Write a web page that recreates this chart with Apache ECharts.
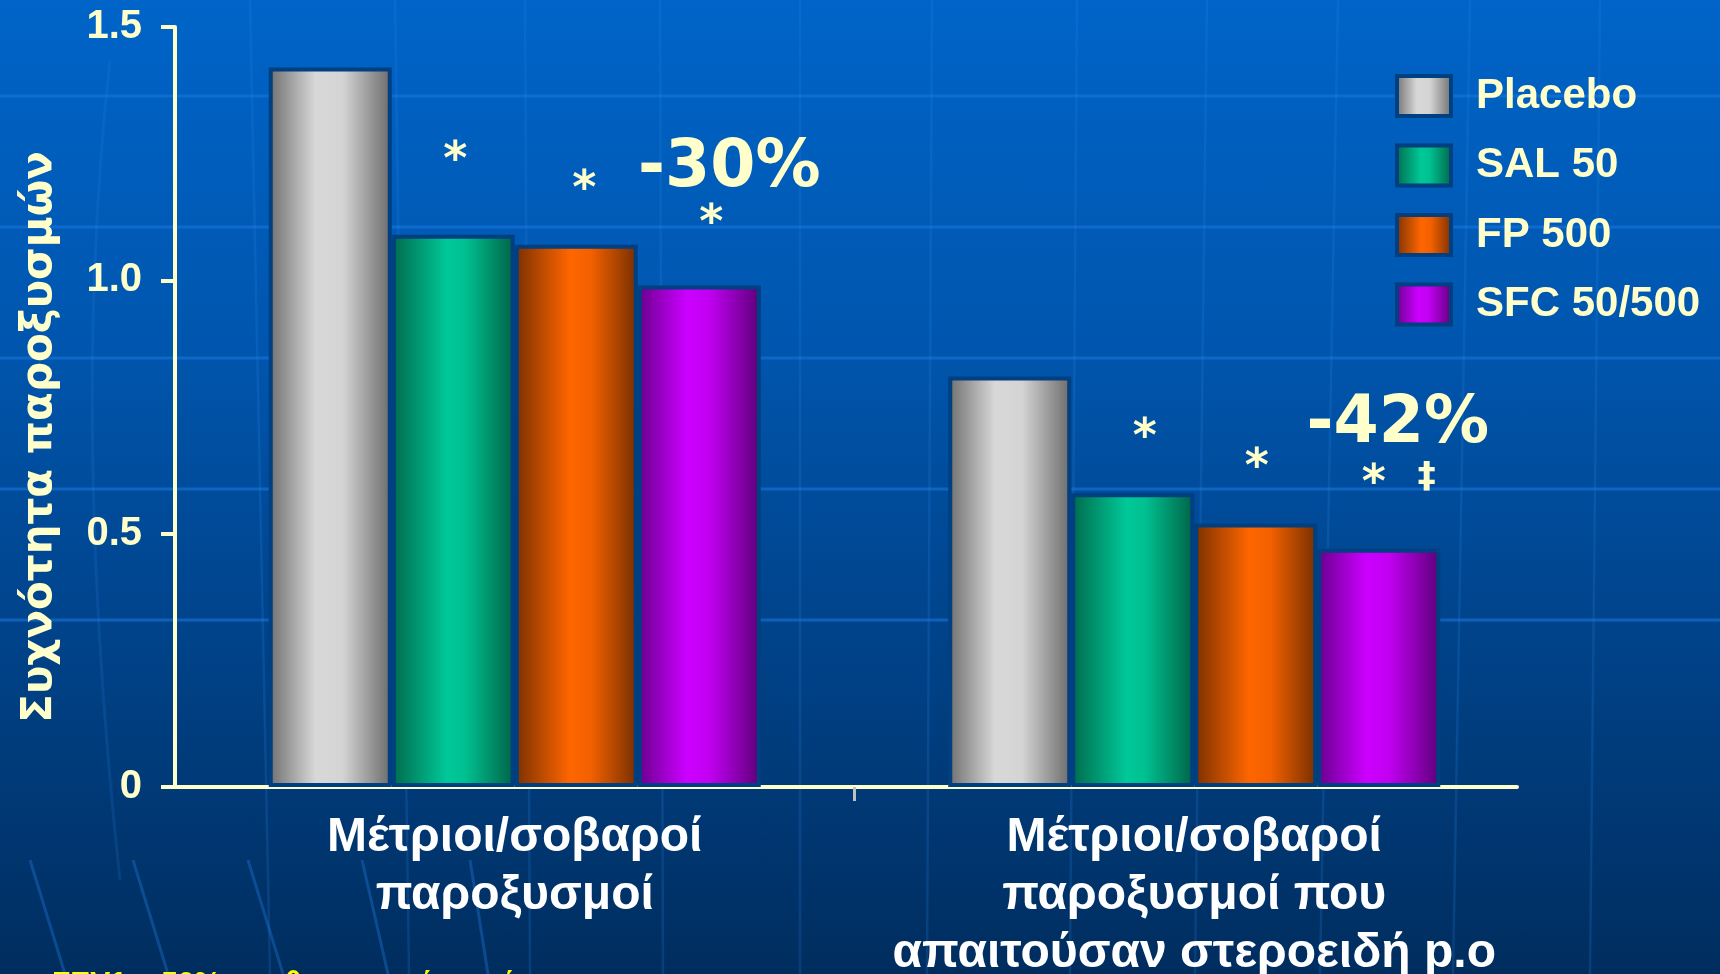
<!DOCTYPE html>
<html><head><meta charset="utf-8">
<script src="https://cdn.jsdelivr.net/npm/echarts@6/dist/echarts.min.js"></script>
<style>
html,body{margin:0;padding:0;width:1720px;height:974px;overflow:hidden;background:#003366;}
#bg{position:absolute;left:0;top:0;width:1720px;height:974px;}
#chart{position:absolute;left:0;top:0;width:1720px;height:974px;}
</style></head><body>
<svg id="bg" width="1720" height="974" xmlns="http://www.w3.org/2000/svg"></svg>
<div id="chart"></div>
<script>
// ---- data ----
const categories = ['Μέτριοι/σοβαροί\nπαροξυσμοί', 'Μέτριοι/σοβαροί\nπαροξυσμοί που\nαπαιτούσαν στεροειδή p.o'];
const seriesNames = ['Placebo', 'SAL 50', 'FP 500', 'SFC 50/500'];
const placebo = [1.42, 0.81];
const sal50 = [1.09, 0.58];
const fp500 = [1.07, 0.52];
const sfc50500 = [0.99, 0.47];
const yTickLabels = ['0', '0.5', '1.0', '1.5'];
const sal50Marks = ['*', '*'];
const fp500Marks = ['*', '*'];
const sfcMarks = ['*', '*  ‡'];
const reductions = ['-30%', '-42%'];
const yAxisTitle = 'Συχνότητα παροξυσμών';
const footnote = 'FEV1 ~ 50% της θεωρητικής τιμής';

// ---- layout / style ----
const plotLeft = 175, plotTop = 27, plotBottom = 187, plotWidth = 1359, axisEnd = 1517;
const cream = '#ffffcc';
const borderCol = '#003f80';
function grad(stops) {
  return new echarts.graphic.LinearGradient(0, 0, 1, 0, stops.map(s => ({offset: s[0], color: s[1]})));
}
const colors = [
  grad([[0, '#6e6e6e'], [0.38, '#d8d8d8'], [0.6, '#d4d4d4'], [1, '#6a6a6a']]),
  grad([[0, '#006a4c'], [0.45, '#00c898'], [0.6, '#00c090'], [1, '#006245']]),
  grad([[0, '#7a3000'], [0.45, '#ff6600'], [0.62, '#f26000'], [1, '#752e00']]),
  grad([[0, '#68008c'], [0.4, '#cc00ff'], [0.58, '#c200f2'], [1, '#5c0078']])
];
const markOffsets = {
  sal: [[2, -50], [12, -31]],
  fp: [[8, -31], [1, -31]],
  sfc: [[12, -37], [20, -39]]
};
const pctOffsets = [[30, -116], [19, -124]];

// ---- background decoration ----
(function () {
  const svg = document.getElementById('bg');
  let s = '<defs><linearGradient id="g" x1="0" y1="0" x2="0" y2="1">' +
    '<stop offset="0" stop-color="#0064c8"/><stop offset="0.35" stop-color="#0056ae"/>' +
    '<stop offset="0.6" stop-color="#004690"/><stop offset="0.8" stop-color="#003a78"/>' +
    '<stop offset="1" stop-color="#002d5e"/></linearGradient></defs>' +
    '<rect width="1720" height="974" fill="url(#g)"/>';
  [96, 227, 358, 489, 620].forEach(y => {
    s += '<line x1="0" x2="1720" y1="' + y + '" y2="' + y + '" stroke="#1a78e0" stroke-opacity="0.55" stroke-width="3"/>';
  });
  [[250, 270], [395, 409], [525, 530], [660, 663], [800, 800], [932, 927], [1077, 1070], [1207, 1195], [1338, 1320], [1470, 1453], [1600, 1590]].forEach(p => {
    s += '<path d="M' + p[0] + ' 0 Q' + (p[0] + p[1]) / 2 + ' 500 ' + p[1] + ' 974" fill="none" stroke="#2a86e6" stroke-opacity="0.2" stroke-width="2.5"/>';
  });
  [[30, 65], [133, 168], [248, 283], [362, 388], [470, 488]].forEach(p => {
    s += '<line x1="' + p[0] + '" y1="860" x2="' + p[1] + '" y2="974" stroke="#1a6cc8" stroke-opacity="0.45" stroke-width="3"/>';
  });
  s += '<path d="M110 60 Q70 420 120 880" fill="none" stroke="#2a86e6" stroke-opacity="0.16" stroke-width="3"/>';
  svg.innerHTML = s;
})();

// ---- chart ----
const chart = echarts.init(document.getElementById('chart'), null, {renderer: 'canvas'});
const markLabel = {show: true, position: 'top', distance: 0, color: cream, fontSize: 46, fontWeight: 'bold', fontFamily: 'DejaVu Sans',
  rich: {d: {color: cream, fontSize: 36, fontWeight: 'bold', fontFamily: 'DejaVu Sans', padding: [0, 0, 14, 0]}}};
function items(values, marks, offs) {
  return values.map((v, i) => marks ? {value: v, label: Object.assign({}, markLabel, {formatter: marks[i].replace('‡', '{d|‡}'), offset: offs[i]})} : v);
}
const seriesData = [
  items(placebo, null, null),
  items(sal50, sal50Marks, markOffsets.sal),
  items(fp500, fp500Marks, markOffsets.fp),
  items(sfc50500, sfcMarks, markOffsets.sfc)
];
const series = seriesNames.map((name, k) => ({
  name: name, type: 'bar', xAxisIndex: 0, yAxisIndex: 0,
  data: seriesData[k], barWidth: 123, barGap: '0%',
  itemStyle: {color: colors[k], borderColor: borderCol, borderWidth: 4},
  emphasis: {disabled: true}
}));
series[3].markPoint = {
  symbol: 'rect', symbolSize: 1, itemStyle: {color: 'rgba(0,0,0,0)'},
  label: {show: true, position: 'inside', formatter: p => p.name, color: cream, fontSize: 65, fontWeight: 'bold', fontFamily: 'DejaVu Sans',
    textShadowColor: '#000', textShadowOffsetX: 3, textShadowOffsetY: 3, textShadowBlur: 0},
  data: reductions.map((r, i) => ({name: r, coord: [i, sfc50500[i]], label: {offset: pctOffsets[i]}}))
};

const option = {
  animation: false,
  backgroundColor: 'transparent',
  grid: [
    {left: plotLeft, top: plotTop, bottom: plotBottom, width: plotWidth, containLabel: false, outerBoundsMode: 'none'},
    {left: plotLeft, top: plotTop, bottom: plotBottom, width: axisEnd - plotLeft, containLabel: false, outerBoundsMode: 'none'}
  ],
  legend: {
    orient: 'vertical', left: 1395, top: 74, padding: 0,
    itemWidth: 54, itemHeight: 40, itemGap: 25.5, icon: 'rect',
    itemStyle: {borderColor: borderCol, borderWidth: 4},
    textStyle: {color: cream, fontSize: 42, fontWeight: 'bold', fontFamily: 'Liberation Sans', lineHeight: 40, padding: [0, 0, 0, 20]},
    data: seriesNames
  },
  xAxis: [
    {
      type: 'category', gridIndex: 0, data: categories,
      axisLine: {show: false}, axisTick: {show: false},
      axisLabel: {interval: 0, color: '#ffffff', fontSize: 48, fontWeight: 'bold', fontFamily: 'Liberation Sans', lineHeight: 58, margin: 22}
    },
    {
      type: 'value', gridIndex: 1, min: 0, max: 1,
      axisLine: {show: true, onZero: false, lineStyle: {color: cream, width: 4}},
      axisTick: {show: true, length: 14, lineStyle: {color: '#c0c0c0', width: 3}, customValues: [(plotWidth / categories.length) / (axisEnd - plotLeft)]},
      axisLabel: {show: false}, splitLine: {show: false}
    }
  ],
  yAxis: [
    {
      type: 'value', gridIndex: 0, min: 0, max: 1.5, interval: 0.5,
      axisLine: {show: true, lineStyle: {color: cream, width: 4}},
      axisTick: {show: true, length: 14, lineStyle: {color: cream, width: 4}},
      splitLine: {show: false},
      axisLabel: {color: cream, fontSize: 40, fontWeight: 'bold', fontFamily: 'Liberation Sans', margin: 33,
        formatter: v => yTickLabels[Math.round(v / 0.5)]},
      name: yAxisTitle, nameLocation: 'middle', nameRotate: 90, nameGap: 114,
      nameTextStyle: {color: cream, fontSize: 42, fontWeight: 'bold', fontFamily: 'DejaVu Sans', padding: [0, 60, 0, 0]}
    },
    {type: 'value', gridIndex: 1, min: 0, max: 1, show: false}
  ],
  graphic: [{
    type: 'text', left: 52, top: 969, silent: true,
    style: {text: footnote, fill: '#ffff00', fontSize: 30, fontWeight: 'bold', fontFamily: 'Liberation Sans'}
  }],
  series: series
};
chart.setOption(option);
</script>
</body></html>
